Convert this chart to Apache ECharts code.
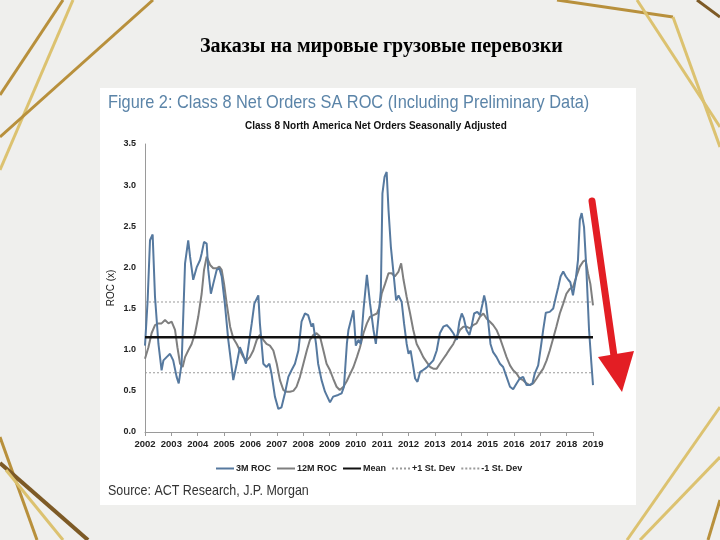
<!DOCTYPE html>
<html><head><meta charset="utf-8">
<script src="https://cdn.jsdelivr.net/npm/echarts@6/dist/echarts.min.js"></script>
<style>html,body{margin:0;padding:0;background:#efefed}#c{width:720px;height:540px}</style>
</head><body><div id="c"></div>
<script>
const slideTitle = 'Заказы на мировые грузовые перевозки';
const figTitle = 'Figure 2: Class 8 Net Orders SA ROC (Including Preliminary Data)';
const subTitle = 'Class 8 North America Net Orders Seasonally Adjusted';
const sourceText = 'Source: ACT Research, J.P. Morgan';
const seriesNames = ['3M ROC', '12M ROC', 'Mean', '+1 St. Dev', '-1 St. Dev'];
const yearStart = 2002, yearEnd = 2019;
const meanVal = 1.15, plusSD = 1.58, minusSD = 0.72;

const roc3m = [[2002.00,1.05],[2002.10,1.60],[2002.19,2.33],[2002.29,2.40],[2002.38,1.64],[2002.51,1.07],[2002.63,0.75],[2002.70,0.87],[2002.82,0.91],[2002.95,0.95],[2003.07,0.87],[2003.20,0.67],[2003.28,0.59],[2003.39,0.83],[2003.52,2.05],[2003.64,2.33],[2003.71,2.13],[2003.83,1.85],[2003.96,2.00],[2004.09,2.09],[2004.15,2.17],[2004.24,2.31],[2004.34,2.29],[2004.40,1.97],[2004.50,1.68],[2004.59,1.80],[2004.72,1.97],[2004.82,1.99],[2004.91,1.89],[2005.03,1.56],[2005.16,1.12],[2005.35,0.63],[2005.48,0.83],[2005.60,1.03],[2005.73,0.93],[2005.83,0.83],[2005.92,1.03],[2006.05,1.32],[2006.15,1.56],[2006.30,1.66],[2006.36,1.32],[2006.49,0.83],[2006.61,0.79],[2006.72,0.83],[2006.80,0.71],[2006.93,0.43],[2007.06,0.28],[2007.18,0.30],[2007.31,0.47],[2007.44,0.67],[2007.56,0.75],[2007.69,0.83],[2007.82,0.99],[2007.94,1.34],[2008.07,1.44],[2008.19,1.42],[2008.32,1.28],[2008.38,1.32],[2008.49,1.07],[2008.57,0.83],[2008.70,0.63],[2008.83,0.49],[2009.02,0.36],[2009.14,0.43],[2009.33,0.45],[2009.46,0.47],[2009.55,0.55],[2009.66,1.07],[2009.72,1.24],[2009.91,1.48],[2010.00,1.05],[2010.10,1.12],[2010.19,1.07],[2010.29,1.48],[2010.42,1.91],[2010.54,1.56],[2010.67,1.24],[2010.76,1.07],[2010.86,1.40],[2010.95,1.72],[2011.01,2.90],[2011.09,3.10],[2011.17,3.16],[2011.24,2.70],[2011.33,2.25],[2011.43,1.93],[2011.53,1.60],[2011.62,1.66],[2011.68,1.68],[2011.74,1.58],[2011.83,1.32],[2011.93,1.07],[2012.00,0.95],[2012.08,0.99],[2012.16,0.83],[2012.25,0.65],[2012.34,0.61],[2012.44,0.73],[2012.54,0.75],[2012.63,0.77],[2012.71,0.79],[2012.82,0.83],[2012.94,0.87],[2013.07,0.99],[2013.19,1.20],[2013.32,1.28],[2013.45,1.30],[2013.57,1.26],[2013.70,1.20],[2013.83,1.12],[2013.93,1.34],[2014.02,1.44],[2014.10,1.38],[2014.20,1.24],[2014.31,1.18],[2014.39,1.28],[2014.49,1.44],[2014.61,1.46],[2014.71,1.42],[2014.81,1.56],[2014.87,1.66],[2014.94,1.56],[2015.03,1.32],[2015.11,1.07],[2015.21,0.97],[2015.34,0.91],[2015.47,0.83],[2015.59,0.79],[2015.72,0.67],[2015.85,0.55],[2015.97,0.52],[2016.10,0.59],[2016.22,0.65],[2016.35,0.67],[2016.48,0.57],[2016.60,0.57],[2016.70,0.59],[2016.79,0.71],[2016.92,0.81],[2017.02,1.03],[2017.11,1.24],[2017.21,1.45],[2017.36,1.46],[2017.49,1.50],[2017.59,1.64],[2017.68,1.76],[2017.77,1.89],[2017.87,1.95],[2017.97,1.89],[2018.06,1.85],[2018.14,1.82],[2018.24,1.66],[2018.35,1.87],[2018.43,2.09],[2018.50,2.58],[2018.57,2.66],[2018.66,2.49],[2018.75,1.97],[2018.85,1.24],[2018.94,0.83],[2019.00,0.57]];

const roc12m = [[2002.00,0.89],[2002.13,1.03],[2002.25,1.20],[2002.38,1.30],[2002.51,1.32],[2002.63,1.32],[2002.76,1.36],[2002.89,1.32],[2003.01,1.34],[2003.14,1.24],[2003.23,1.03],[2003.33,0.83],[2003.43,0.79],[2003.52,0.91],[2003.64,0.99],[2003.77,1.07],[2003.90,1.20],[2004.02,1.40],[2004.15,1.68],[2004.24,1.97],[2004.34,2.13],[2004.47,2.03],[2004.59,1.99],[2004.72,1.99],[2004.82,2.01],[2004.91,1.97],[2005.00,1.80],[2005.10,1.56],[2005.23,1.28],[2005.35,1.14],[2005.48,1.07],[2005.60,0.99],[2005.73,0.91],[2005.86,0.87],[2005.98,0.91],[2006.11,0.99],[2006.24,1.12],[2006.36,1.18],[2006.49,1.12],[2006.61,1.07],[2006.74,1.05],[2006.87,0.99],[2007.00,0.83],[2007.12,0.63],[2007.25,0.51],[2007.37,0.49],[2007.50,0.49],[2007.63,0.50],[2007.75,0.55],[2007.88,0.67],[2008.01,0.83],[2008.14,0.99],[2008.26,1.12],[2008.39,1.18],[2008.51,1.20],[2008.64,1.16],[2008.77,0.99],[2008.89,0.83],[2009.02,0.75],[2009.14,0.65],[2009.27,0.55],[2009.39,0.51],[2009.53,0.55],[2009.66,0.62],[2009.79,0.71],[2009.91,0.79],[2010.04,0.91],[2010.16,1.03],[2010.29,1.20],[2010.42,1.32],[2010.54,1.40],[2010.67,1.42],[2010.80,1.44],[2010.90,1.52],[2010.98,1.68],[2011.11,1.80],[2011.24,1.93],[2011.36,1.93],[2011.48,1.89],[2011.62,1.95],[2011.72,2.05],[2011.81,1.85],[2011.93,1.64],[2012.06,1.44],[2012.18,1.24],[2012.31,1.07],[2012.44,0.99],[2012.56,0.91],[2012.69,0.85],[2012.82,0.79],[2012.94,0.77],[2013.07,0.77],[2013.19,0.83],[2013.32,0.89],[2013.45,0.95],[2013.57,1.01],[2013.70,1.07],[2013.83,1.16],[2013.95,1.24],[2014.08,1.28],[2014.20,1.28],[2014.33,1.26],[2014.45,1.30],[2014.58,1.32],[2014.71,1.40],[2014.84,1.44],[2014.96,1.38],[2015.09,1.34],[2015.21,1.30],[2015.34,1.24],[2015.47,1.14],[2015.59,1.03],[2015.72,0.91],[2015.85,0.81],[2015.97,0.75],[2016.10,0.71],[2016.22,0.65],[2016.35,0.63],[2016.48,0.59],[2016.60,0.57],[2016.73,0.59],[2016.86,0.65],[2016.98,0.71],[2017.11,0.77],[2017.24,0.87],[2017.36,0.99],[2017.49,1.14],[2017.61,1.28],[2017.74,1.44],[2017.87,1.56],[2017.99,1.68],[2018.12,1.74],[2018.24,1.76],[2018.37,1.89],[2018.50,2.01],[2018.62,2.07],[2018.72,2.09],[2018.81,1.93],[2018.90,1.80],[2019.00,1.54]];

const sans = "'Liberation Sans',Arial,sans-serif";
const chart = echarts.init(document.getElementById('c'));
const flat = v => [[yearStart, v], [yearEnd, v]];

const gold1 = '#b8903c', gold2 = '#dcc270', brown = '#7d5a26';
const goldLines = [
  [63,0,0,95,gold1,3],[73,0,0,170,gold2,3],[153,0,0,137,gold1,3],
  [557,0,673,17,gold1,3],[673,17,720,147,gold2,3],[637,0,720,127,gold2,3],[697,0,720,17,brown,3],
  [0,437,37,540,gold1,3],[0,463,88,540,brown,4],[6,470,63,540,gold2,3],
  [720,407,627,540,gold2,3],[720,457,640,540,gold2,3],[720,500,708,540,gold1,3]
];
const graphics = [
  {type:'rect', shape:{x:100,y:88,width:536,height:417}, style:{fill:'#ffffff'}, z:-5, silent:true}
];
goldLines.forEach(g => graphics.push({type:'line', shape:{x1:g[0],y1:g[1],x2:g[2],y2:g[3]}, style:{stroke:g[4],lineWidth:g[5]}, z:-6, silent:true}));
graphics.push(
  {type:'text', x:200, y:37, style:{text:slideTitle, font:"bold 20px 'Liberation Serif','Times New Roman',serif", fill:'#000'}, z:5},
  {type:'text', x:108, y:93, scaleX:0.86, style:{text:figTitle, font:"19px "+sans, fill:'#5b84a8'}, z:5},
  {type:'text', x:245, y:121, style:{text:subTitle, font:"bold 10px "+sans, fill:'#111'}, z:5},
  {type:'text', x:108, y:483, scaleX:0.86, style:{text:sourceText, font:"14.5px "+sans, fill:'#333'}, z:5},
  {type:'line', shape:{x1:592,y1:201,x2:614,y2:356}, style:{stroke:'#e31e24', lineWidth:7, lineCap:'round'}, z:5},
  {type:'polygon', shape:{points:[[598,357],[634,351],[622,392]]}, style:{fill:'#e31e24'}, z:5}
);

chart.setOption({
  backgroundColor: '#efefed',
  animation: false,
  graphic: graphics,
  grid: {left:145, top:144, width:448, height:288, containLabel:false},
  legend: {
    data: seriesNames, top: 459, left: 210, itemWidth: 18, itemHeight: 8, itemGap: 5,
    itemStyle: {opacity: 0},
    textStyle: {fontFamily: sans, fontWeight: 'bold', fontSize: 9, color: '#222', padding:[0,0,0,-3]}
  },
  xAxis: {
    type:'value', min:yearStart, max:yearEnd, interval:1,
    axisLine:{lineStyle:{color:'#9a9a9a', width:1}},
    axisTick:{show:true, length:4, lineStyle:{color:'#9a9a9a'}},
    splitLine:{show:false},
    axisLabel:{formatter: v => String(v), fontFamily: sans, fontWeight:'bold', fontSize:9.5, color:'#222', margin:7}
  },
  yAxis: {
    type:'value', min:0, max:3.5, interval:0.5,
    name:'ROC (x)', nameLocation:'middle', nameGap:29, nameRotate:90, nameMoveOverlap:false,
    nameTextStyle:{fontFamily: sans, fontSize:10, color:'#222'},
    axisLine:{show:true, lineStyle:{color:'#9a9a9a', width:1}},
    axisTick:{show:false},
    splitLine:{show:false},
    axisLabel:{formatter: v => v.toFixed(1), fontFamily: sans, fontWeight:'bold', fontSize:9, color:'#222', margin:9}
  },
  series: [
    {name:seriesNames[3], type:'line', data:flat(plusSD), symbol:'none', lineStyle:{color:'#9a9a9a', width:1, type:[2,2]}, itemStyle:{color:'#9a9a9a'}, z:1},
    {name:seriesNames[4], type:'line', data:flat(minusSD), symbol:'none', lineStyle:{color:'#9a9a9a', width:1, type:[2,2]}, itemStyle:{color:'#9a9a9a'}, z:1},
    {name:seriesNames[1], type:'line', data:roc12m, symbol:'none', lineStyle:{color:'#7f7f7f', width:2}, itemStyle:{color:'#7f7f7f'}, z:2},
    {name:seriesNames[0], type:'line', data:roc3m, symbol:'none', lineStyle:{color:'#56799f', width:2}, itemStyle:{color:'#56799f'}, z:3},
    {name:seriesNames[2], type:'line', data:flat(meanVal), symbol:'none', lineStyle:{color:'#111', width:2.5}, itemStyle:{color:'#111'}, z:4}
  ]
});
</script></body></html>
